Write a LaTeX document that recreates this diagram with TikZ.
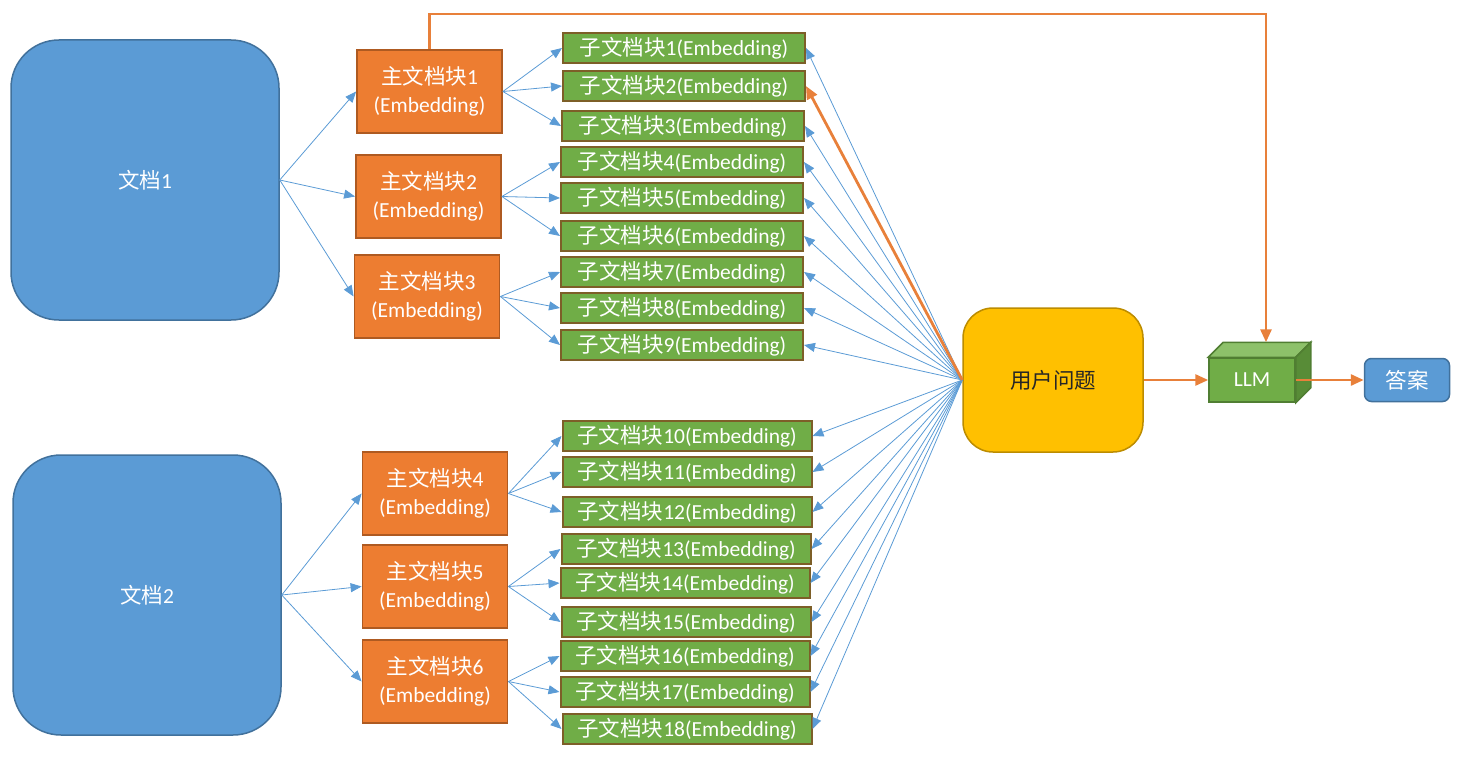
\documentclass[tikz,border=0pt]{standalone}
\usepackage{fontspec}
\setmainfont{Carlito}
\newfontfamily\cjk{Noto Sans CJK SC}
\newcommand{\zw}[1]{{\cjk #1}}
\usetikzlibrary{arrows.meta}

\begin{document}
\begin{tikzpicture}[x=1pt,y=-1pt,
  font=\fontsize{21.5}{28}\selectfont,
  docbox/.style={draw=docline,fill=docfill,line width=1.5pt,rounded corners=48pt,minimum width=268pt,minimum height=280pt,text=white},
  mainbox/.style={draw=mainline,fill=mainfill,line width=1.8pt,minimum width=145pt,minimum height=83pt,inner sep=0pt,text=white,align=center},
  subbox/.style={draw=subline,fill=subfill,line width=2pt,minimum width=242pt,minimum height=30pt,inner sep=0pt,text=white},
  widebox/.style={subbox,minimum width=249pt},
  link/.style={draw=linkcolor,line width=0.8pt,-{Triangle[length=11pt,width=9pt]}},
  flow/.style={draw=flowcolor,line width=2.8pt,-{Triangle[length=13pt,width=11pt]}}]
\definecolor{docfill}{RGB}{91,155,213}
\definecolor{docline}{RGB}{65,113,156}
\definecolor{mainfill}{RGB}{237,125,49}
\definecolor{mainline}{RGB}{174,90,33}
\definecolor{subfill}{RGB}{112,173,71}
\definecolor{subline}{RGB}{125,95,40}
\definecolor{linkcolor}{RGB}{91,155,213}
\definecolor{flowcolor}{RGB}{232,128,58}
\definecolor{qfill}{RGB}{255,192,0}
\definecolor{qline}{RGB}{188,140,0}
\definecolor{qtext}{RGB}{38,38,38}
\definecolor{llmfill}{RGB}{112,173,71}
\definecolor{llmline}{RGB}{80,126,50}
\definecolor{llmtopfill}{RGB}{141,193,106}
\definecolor{llmsidefill}{RGB}{88,140,55}
\useasboundingbox (0,0) rectangle (1474,757);
\node [docbox] (d1) at (145,180) {\zw{文档}1};
\node [docbox] (d2) at (147,595) {\zw{文档}2};
\node [mainbox] (m1) at (429.5,91.5) {\zw{主文档块}1\\(Embedding)};
\node [mainbox] (m2) at (428.5,196.5) {\zw{主文档块}2\\(Embedding)};
\node [mainbox] (m3) at (427,296.5) {\zw{主文档块}3\\(Embedding)};
\node [mainbox] (m4) at (435,493.5) {\zw{主文档块}4\\(Embedding)};
\node [mainbox] (m5) at (435,586.5) {\zw{主文档块}5\\(Embedding)};
\node [mainbox] (m6) at (435,681.5) {\zw{主文档块}6\\(Embedding)};
\node [subbox] (s1) at (684,48) {\zw{子文档块}1(Embedding)};
\node [subbox] (s2) at (684,86) {\zw{子文档块}2(Embedding)};
\node [subbox] (s3) at (683,126) {\zw{子文档块}3(Embedding)};
\node [subbox] (s4) at (682,162) {\zw{子文档块}4(Embedding)};
\node [subbox] (s5) at (682,198) {\zw{子文档块}5(Embedding)};
\node [subbox] (s6) at (682,236) {\zw{子文档块}6(Embedding)};
\node [subbox] (s7) at (682,272) {\zw{子文档块}7(Embedding)};
\node [subbox] (s8) at (682,308) {\zw{子文档块}8(Embedding)};
\node [subbox] (s9) at (682,345) {\zw{子文档块}9(Embedding)};
\node [widebox] (s10) at (687,436) {\zw{子文档块}10(Embedding)};
\node [widebox] (s11) at (687,472) {\zw{子文档块}11(Embedding)};
\node [widebox] (s12) at (687,512) {\zw{子文档块}12(Embedding)};
\node [widebox] (s13) at (686,549) {\zw{子文档块}13(Embedding)};
\node [widebox] (s14) at (685,583) {\zw{子文档块}14(Embedding)};
\node [widebox] (s15) at (686,622) {\zw{子文档块}15(Embedding)};
\node [widebox] (s16) at (685,656) {\zw{子文档块}16(Embedding)};
\node [widebox] (s17) at (685,692) {\zw{子文档块}17(Embedding)};
\node [widebox] (s18) at (687,729) {\zw{子文档块}18(Embedding)};
\node [draw=qline,fill=qfill,line width=1.5pt,rounded corners=30pt,minimum width=180pt,minimum height=144pt,text=qtext] (q) at (1053,380) {\zw{用户问题}};
\node [draw=llmline,fill=llmfill,line width=1.5pt,minimum width=86pt,minimum height=44pt,inner sep=0pt,text=white] (llm) at (1252,380) {LLM};
\draw [llmline,fill=llmtopfill,line width=1.5pt] (llm.north west) -- ++(15,-15) -- ([shift={(15pt,15pt)}]llm.north east) -- (llm.north east) -- cycle;
\draw [llmline,fill=llmsidefill,line width=1.5pt] (llm.north east) -- ++(15,-15) -- ([shift={(15pt,15pt)}]llm.south east) -- (llm.south east) -- cycle;
\node [draw=docline,fill=docfill,line width=1.5pt,rounded corners=7pt,minimum width=85pt,minimum height=43pt,text=white] (ans) at (1407,380) {\zw{答案}};
\draw [link] (d1.east) -- (m1.west);
\draw [link] (d1.east) -- (m2.west);
\draw [link] (d1.east) -- (m3.west);
\draw [link] (d2.east) -- (m4.west);
\draw [link] (d2.east) -- (m5.west);
\draw [link] (d2.east) -- (m6.west);
\draw [link] (m1.east) -- (s1.west);
\draw [link] (m1.east) -- (s2.west);
\draw [link] (m1.east) -- (s3.west);
\draw [link] (m2.east) -- (s4.west);
\draw [link] (m2.east) -- (s5.west);
\draw [link] (m2.east) -- (s6.west);
\draw [link] (m3.east) -- (s7.west);
\draw [link] (m3.east) -- (s8.west);
\draw [link] (m3.east) -- (s9.west);
\draw [link] (m4.east) -- (s10.west);
\draw [link] (m4.east) -- (s11.west);
\draw [link] (m4.east) -- (s12.west);
\draw [link] (m5.east) -- (s13.west);
\draw [link] (m5.east) -- (s14.west);
\draw [link] (m5.east) -- (s15.west);
\draw [link] (m6.east) -- (s16.west);
\draw [link] (m6.east) -- (s17.west);
\draw [link] (m6.east) -- (s18.west);
\coordinate (fan) at (q.west);
\draw [link] (fan) -- (s1.east);
\draw [link] (fan) -- (s3.east);
\draw [link] (fan) -- (s4.east);
\draw [link] (fan) -- (s5.east);
\draw [link] (fan) -- (s6.east);
\draw [link] (fan) -- (s7.east);
\draw [link] (fan) -- (s8.east);
\draw [link] (fan) -- (s9.east);
\draw [link] (fan) -- (s10.east);
\draw [link] (fan) -- (s11.east);
\draw [link] (fan) -- (s12.east);
\draw [link] (fan) -- (s13.east);
\draw [link] (fan) -- (s14.east);
\draw [link] (fan) -- (s15.east);
\draw [link] (fan) -- (s16.east);
\draw [link] (fan) -- (s17.east);
\draw [link] (fan) -- (s18.east);
\draw [flow] (fan) -- (s2.east);
\draw [flow] (q.east) -- (llm.west);
\draw [flow] (llm.east) -- (ans.west);
\coordinate (llmtop) at ([shift={(14pt,15pt)}]llm.north);
\coordinate (topline) at (0,14);
\draw [flow] (m1.north) |- (llmtop |- topline) -- (llmtop);
\end{tikzpicture}
\end{document}
